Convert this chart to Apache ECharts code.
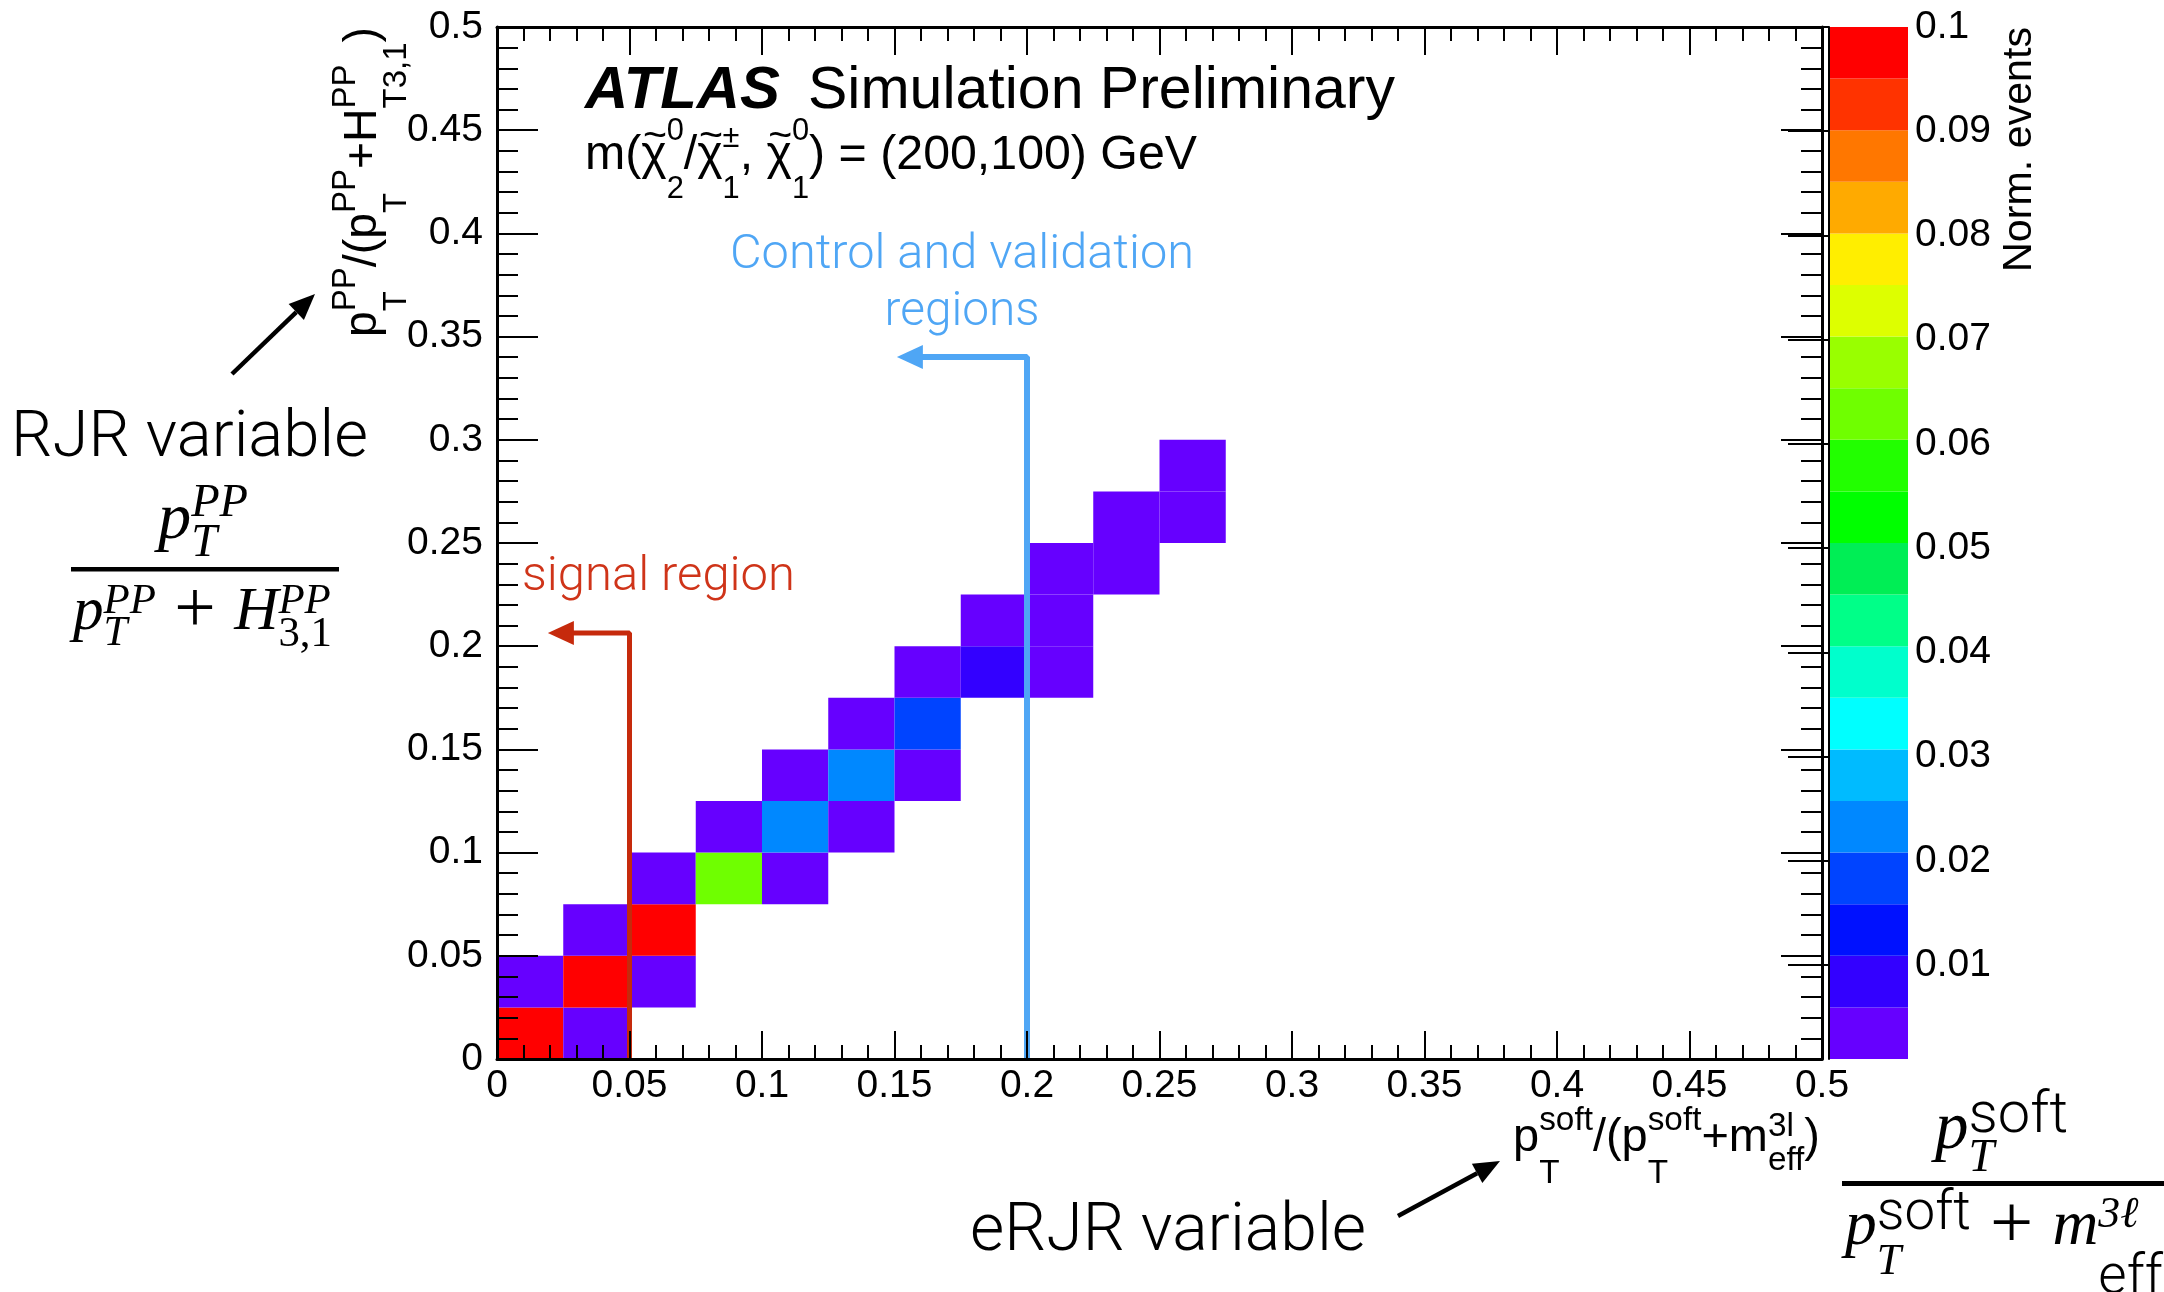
<!DOCTYPE html>
<html>
<head>
<meta charset="utf-8">
<title>eRJR vs RJR variable</title>
<script src="https://cdn.jsdelivr.net/npm/echarts@6/dist/echarts.min.js"></script>
<style>
  html, body { margin: 0; padding: 0; background: #fff; }
  #chart { width: 2164px; height: 1292px; }
</style>
</head>
<body>
<div id="chart"></div>
<script>
// lower bin edges (x, y) of the filled cells and their normalised content
const binWidth = 0.025;
const cellX = [0, 0, 0.025, 0.025, 0.025, 0.05, 0.05, 0.05, 0.075, 0.075, 0.1, 0.1, 0.1,
  0.125, 0.125, 0.125, 0.15, 0.15, 0.15, 0.175, 0.175, 0.2, 0.2, 0.2, 0.225, 0.225, 0.25, 0.25];
const cellY = [0, 0.025, 0, 0.025, 0.05, 0.025, 0.05, 0.075, 0.075, 0.1, 0.075, 0.1, 0.125,
  0.1, 0.125, 0.15, 0.125, 0.15, 0.175, 0.175, 0.2, 0.175, 0.2, 0.225, 0.225, 0.25, 0.25, 0.275];
const cellValue = [0.099, 0.004, 0.003, 0.1, 0.004, 0.003, 0.098, 0.005, 0.063, 0.004, 0.004, 0.023, 0.004,
  0.003, 0.024, 0.004, 0.004, 0.018, 0.004, 0.008, 0.004, 0.003, 0.005, 0.003, 0.004, 0.003, 0.003, 0.002];

// z axis (colour bar)
const zMin = 0.001, zMax = 0.1;
const zTicks = [0.01, 0.02, 0.03, 0.04, 0.05, 0.06, 0.07, 0.08, 0.09, 0.1];
const palette = ['#6600ff', '#3300ff', '#0011ff', '#0044ff', '#0088ff', '#00bbff', '#00ffff', '#00ffcc',
  '#00ff88', '#00ee55', '#00ff00', '#22ff00', '#6fff00', '#99ff00', '#ddff00', '#ffee00',
  '#ffaa00', '#ff7700', '#ff3300', '#ff0000'];

// region cut lines (arrow end last)
const signalCut = [[0.05, 0], [0.05, 0.2064], [0.0241, 0.2064]];
const controlCut = [[0.2, 0], [0.2, 0.3401], [0.1558, 0.3401]];

const SANS = "'Liberation Sans', Arial, Helvetica, sans-serif";
const LIGHT = "Roboto, 'Liberation Sans', sans-serif";
const SERIF = "'Liberation Serif', 'Times New Roman', serif";
const RED = '#c62a0c', BLUE = '#4fa6f5';

const bw = (zMax - zMin) / palette.length;
const pieces = palette.map((c, i) => {
  const p = { gte: zMin + i * bw, color: c };
  if (i < palette.length - 1) p.lt = zMin + (i + 1) * bw;
  return p;
});

// --- small text layout helpers for the formulas ---
const mctx = document.createElement('canvas').getContext('2d');
const S = (px, fam, it, wt) => ({ px, fam, it, wt });
function fnt(st, k) {
  return (st.it ? 'italic ' : 'normal ') + (st.wt || 400) + ' ' + (st.px * k).toFixed(2) + 'px ' + st.fam;
}
function tw(text, st, k) { mctx.font = fnt(st, k); return mctx.measureText(text).width; }
function piece(x, base, text, st, k, color) {
  return {
    type: 'text', x: x, y: base - 0.26 * st.px * k, silent: true,
    style: { text: text, font: fnt(st, k), fill: color || '#000', align: 'left', verticalAlign: 'middle' }
  };
}
function layout(tokens, k, color) {
  let x = 0;
  const out = [];
  tokens.forEach(tk => {
    if (tk.t != null) {
      const w = tw(tk.t, tk.st, k);
      out.push(piece(x, (tk.dy || 0) * k, tk.t, tk.st, k, color));
      if (tk.acc) {
        const aw = tw(tk.acc, tk.accSt, k);
        out.push(piece(x + (w - aw) / 2 + (tk.accDx || 0) * k, -tk.accUp * k, tk.acc, tk.accSt, k, color));
      }
      x += w;
    } else {
      let w = 0;
      if (tk.sup) { out.push(piece(x, -tk.up * k, tk.sup, tk.supSt, k, color)); w = Math.max(w, tw(tk.sup, tk.supSt, k)); }
      if (tk.sub) { out.push(piece(x, tk.dn * k, tk.sub, tk.subSt, k, color)); w = Math.max(w, tw(tk.sub, tk.subSt, k)); }
      x += w;
    }
  });
  return { children: out, width: x };
}
function formula(tokens, o) {
  const k = o.width ? o.width / layout(tokens, 1, o.color).width : 1;
  const res = layout(tokens, k, o.color);
  let left = o.left;
  if (o.center != null) left = o.center - res.width / 2;
  if (o.right != null) left = o.right - res.width;
  if (o.rotate) {
    // reads bottom to top, ends at o.top
    return { type: 'group', x: o.base, y: o.top + res.width, rotation: Math.PI / 2, children: res.children };
  }
  return { type: 'group', x: left, y: o.base, children: res.children };
}
function fitText(text, st, width, o) {
  return formula([{ t: text, st: st }], Object.assign({ width: width }, o));
}
function arrow(x1, y1, x2, y2, w, len, half) {
  const a = Math.atan2(y2 - y1, x2 - x1);
  const bx = x2 - len * Math.cos(a), by = y2 - len * Math.sin(a);
  const nx = -Math.sin(a) * half, ny = Math.cos(a) * half;
  return [
    { type: 'line', shape: { x1: x1, y1: y1, x2: bx, y2: by }, style: { stroke: '#000', lineWidth: w } },
    { type: 'polygon', shape: { points: [[x2, y2], [bx + nx, by + ny], [bx - nx, by - ny]] }, style: { fill: '#000' } }
  ];
}

// --- axis titles and labels ---
const ax = S(38, SANS), axs = S(27, SANS);
const yTitle = formula([
  { t: 'p', st: ax }, { sup: 'PP', supSt: axs, sub: 'T', subSt: axs, up: 17, dn: 25 },
  { t: '/(p', st: ax }, { sup: 'PP', supSt: axs, sub: 'T', subSt: axs, up: 17, dn: 25 },
  { t: '+H', st: ax }, { sup: 'PP', supSt: axs, sub: 'T3,1', subSt: axs, up: 17, dn: 25 },
  { t: ')', st: ax }
], { width: 310, top: 27, base: 375, rotate: true });

const xTitle = formula([
  { t: 'p', st: ax }, { sup: 'soft', supSt: axs, sub: 'T', subSt: axs, up: 17, dn: 26 },
  { t: '/(p', st: ax }, { sup: 'soft', supSt: axs, sub: 'T', subSt: axs, up: 17, dn: 26 },
  { t: '+m', st: ax }, { sup: '3l', supSt: axs, sub: 'eff', subSt: axs, up: 12, dn: 16 },
  { t: ')', st: ax }
], { width: 307, right: 1820, base: 1150 });

const mm = S(47, SANS), ms = S(30, SANS), tl = S(40, SANS);
const chi = { t: 'χ', st: mm, acc: '~', accSt: tl, accUp: 20, accDx: 1 };
const massLine = formula([
  { t: 'm(', st: mm }, chi, { sup: '0', supSt: ms, sub: '2', subSt: ms, up: 28, dn: 29 },
  { t: '/', st: mm }, chi, { sup: '±', supSt: ms, sub: '1', subSt: ms, up: 21, dn: 29 },
  { t: ', ', st: mm }, chi, { sup: '0', supSt: ms, sub: '1', subSt: ms, up: 28, dn: 29 },
  { t: ') = (200,100) GeV', st: mm }
], { width: 612, left: 585, base: 168 });

// RJR fraction
const mi = S(60, SERIF, true), si = S(42, SERIF, true), su = S(42, SERIF), pl = S(72, SERIF);
const rjrNum = formula([
  { t: 'p', st: mi }, { sup: 'PP', supSt: si, sub: 'T', subSt: si, up: 20, dn: 16 }
], { width: 90, center: 203, base: 538 });
const rjrDen = formula([
  { t: 'p', st: mi }, { sup: 'PP', supSt: si, sub: 'T', subSt: si, up: 16, dn: 16 },
  { t: ' + ', st: pl, dy: 3 },
  { t: 'H', st: mi }, { sup: 'PP', supSt: si, sub: '3,1', subSt: su, up: 16, dn: 17 }
], { width: 259, left: 73, base: 629 });

// eRJR fraction
const ei = S(58, SERIF, true), es = S(50, LIGHT, false, 300), et = S(40, SERIF, true), eu = S(40, SERIF), ep = S(70, SERIF);
const erjrNum = formula([
  { t: 'p', st: ei }, { sup: 'soft', supSt: es, sub: 'T', subSt: et, up: 13, dn: 20 }
], { width: 133, left: 1935, base: 1148 });
const erjrDen = formula([
  { t: 'p', st: ei }, { sup: 'soft', supSt: es, sub: 'T', subSt: et, up: 13, dn: 27 },
  { t: ' + ', st: ep, dy: 3 },
  { t: 'm', st: ei }, { sup: '3ℓ', supSt: S(40, SERIF, true), sub: 'eff', subSt: es, up: 16, dn: 45 }
], { width: 318, left: 1845, base: 1244 });

const graphics = [
  fitText('ATLAS', S(59, SANS, true, 700), 195, { left: 585, base: 107 }),
  fitText('Simulation Preliminary', S(59, SANS), 587, { left: 808, base: 107 }),
  massLine,
  fitText('Control and validation', S(48, LIGHT, false, 300), 464, { left: 730, base: 268, color: BLUE }),
  fitText('regions', S(48, LIGHT, false, 300), 155, { center: 962, base: 325, color: BLUE }),
  fitText('signal region', S(48, LIGHT, false, 300), 273, { left: 522, base: 590, color: '#cf3419' }),
  fitText('RJR variable', S(63, LIGHT, false, 300), 357, { left: 11, base: 457 }),
  fitText('eRJR variable', S(63, LIGHT, false, 300), 396, { left: 970, base: 1251 }),
  fitText('Norm. events', S(41, SANS), 245, { top: 27, base: 2030, rotate: true }),
  yTitle, xTitle,
  rjrNum, rjrDen,
  { type: 'rect', shape: { x: 71, y: 567, width: 268, height: 4.5 }, style: { fill: '#000' } },
  erjrNum, erjrDen,
  { type: 'rect', shape: { x: 1842, y: 1181, width: 330, height: 5 }, style: { fill: '#000' } }
].concat(arrow(232, 374, 315, 294, 4.5, 26, 11), arrow(1398, 1216, 1500, 1161, 4.5, 26, 11));

// --- axes ---
function frameAxis(pos, gridIndex, showLabel, major, minor, margin) {
  return {
    type: 'value', gridIndex: gridIndex, position: pos, min: 0, max: 0.5, interval: 0.05, z: 10,
    axisLine: { show: true, onZero: false, lineStyle: { color: '#000', width: 3 } },
    axisTick: { show: true, inside: true, length: major, lineStyle: { color: '#000', width: 2 } },
    minorTick: { show: true, splitNumber: 5, length: minor, lineStyle: { color: '#000', width: 2 } },
    splitLine: { show: false },
    axisLabel: {
      show: showLabel, color: '#000', fontFamily: SANS, fontSize: 39, margin: margin,
      showMinLabel: true, showMaxLabel: true
    }
  };
}

const cellData = cellX.map((x, i) => [x, cellY[i], cellValue[i]]);
const bandData = palette.map((c, i) => [zMin + i * bw, zMin + (i + 1) * bw, i]);

function cutLine(points, color, width, head) {
  return {
    type: 'line', xAxisIndex: 0, yAxisIndex: 0, z: 6, silent: true,
    data: points.map((p, i) => i === points.length - 1
      ? { value: p, symbol: 'triangle', symbolSize: head, symbolRotate: 90 }
      : { value: p, symbol: 'none' }),
    lineStyle: { color: color, width: width },
    itemStyle: { color: color }
  };
}

const option = {
  animation: false,
  backgroundColor: '#fff',
  grid: [
    { left: 497, top: 27, width: 1325, height: 1032 },
    { left: 1829, top: 27, width: 79, height: 1032 }
  ],
  xAxis: [
    frameAxis('bottom', 0, true, 28, 14, 8),
    frameAxis('top', 0, false, 28, 14, 8),
    { type: 'value', gridIndex: 1, min: 0, max: 1, show: false }
  ],
  yAxis: [
    frameAxis('left', 0, true, 41, 21, 14),
    frameAxis('right', 0, false, 41, 21, 14),
    {
      type: 'value', gridIndex: 1, position: 'right', min: zMin, max: zMax, z: 10,
      axisLine: { show: true, lineStyle: { color: '#000', width: 2 } },
      axisTick: { show: true, inside: true, length: 41, customValues: zTicks, lineStyle: { color: '#000', width: 2 } },
      splitLine: { show: false },
      axisLabel: {
        color: '#000', fontFamily: SANS, fontSize: 39, margin: 7, customValues: zTicks,
        formatter: v => String(+(+v).toFixed(3))
      }
    }
  ],
  visualMap: {
    type: 'piecewise', show: false, seriesIndex: 0, dimension: 2, pieces: pieces
  },
  series: [
    {
      type: 'custom', xAxisIndex: 0, yAxisIndex: 0, data: cellData, silent: true,
      renderItem: function (params, api) {
        const x = api.value(0), y = api.value(1);
        const p0 = api.coord([x, y]);
        const p1 = api.coord([x + binWidth, y + binWidth]);
        return {
          type: 'rect',
          shape: { x: p0[0], y: p1[1], width: p1[0] - p0[0], height: p0[1] - p1[1] },
          style: { fill: api.visual('color') }
        };
      }
    },
    cutLine(signalCut, RED, 5, [24, 26]),
    cutLine(controlCut, BLUE, 6, [24, 26]),
    {
      type: 'custom', xAxisIndex: 2, yAxisIndex: 2, data: bandData, silent: true,
      renderItem: function (params, api) {
        const p0 = api.coord([0, api.value(0)]);
        const p1 = api.coord([1, api.value(1)]);
        return {
          type: 'rect',
          shape: { x: p0[0], y: p1[1], width: p1[0] - p0[0], height: p0[1] - p1[1] },
          style: { fill: palette[api.value(2)] }
        };
      }
    }
  ],
  graphic: graphics
};

const chart = echarts.init(document.getElementById('chart'));
chart.setOption(option);
</script>
</body>
</html>
